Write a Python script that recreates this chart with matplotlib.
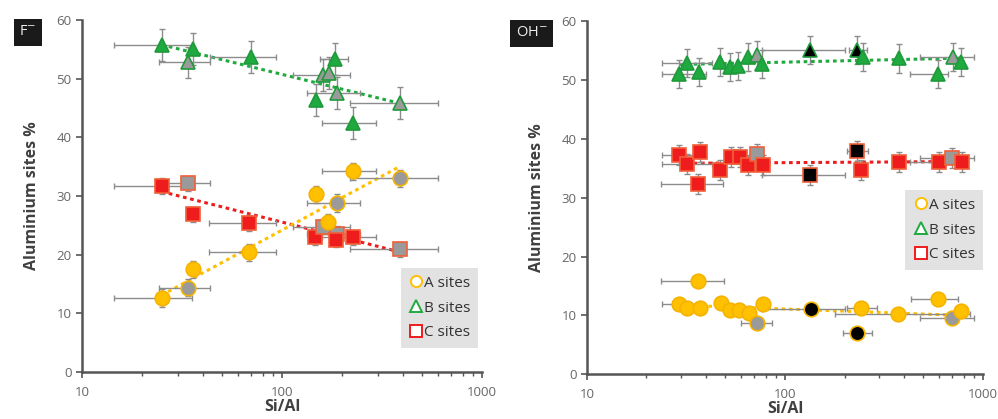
import numpy as np
import matplotlib.pyplot as plt
from matplotlib.lines import Line2D

plt.rcParams['font.family'] = ['Open Sans', 'DejaVu Sans']

# ---- F- panel ----
f_a_x = [25, 33.9, 35.8, 68.6, 148, 170, 187, 227, 389]
f_a_y = [12.6, 14.4, 17.5, 20.4, 30.3, 25.5, 28.8, 34.2, 33.0]
f_a_face = ['c', 'g', 'c', 'c', 'c', 'c', 'g', 'c', 'g']
f_a_xlo = [14.5, 24.2, None, 43, None, None, 133, 158, 219]
f_a_xhi = [35.5, 43.6, None, 93, None, None, 245, 296, 600]
f_a_yerr = 1.5

f_b_x = [25, 33.9, 35.8, 69.7, 148, 160, 172, 184, 187, 227, 389]
f_b_y = [55.7, 52.8, 55.1, 53.7, 46.4, 50.6, 51.0, 53.4, 47.6, 42.5, 45.9]
f_b_face = ['c', 'g', 'c', 'c', 'c', 'g', 'g', 'c', 'g', 'c', 'g']
f_b_xlo = [14.5, 24.2, None, 43.6, None, 113, None, 154, 133, 158, 219]
f_b_xhi = [35.5, 43.6, None, 93.3, None, 219, None, 213, 245, 296, 600]
f_b_yerr = 2.7

f_c_x = [25, 33.9, 35.8, 68.6, 146, 160, 187, 186, 227, 389]
f_c_y = [31.7, 32.2, 26.9, 25.4, 23.0, 24.8, 23.6, 22.6, 23.0, 20.9]
f_c_face = ['c', 'g', 'c', 'c', 'c', 'g', 'g', 'c', 'c', 'g']
f_c_xlo = [14.5, 24.2, None, 43, None, 113, 133, None, 158, 219]
f_c_xhi = [35.5, 43.6, None, 93, None, 219, 245, None, 296, 600]
f_c_yerr = 1.3

# ---- OH- panel ----
oh_a_x = [29.2, 32.2, 36.5, 37.1, 47.3, 52.7, 58.7, 66.1, 72.5, 77.6, 135, 230, 243, 373, 594, 700, 774]
oh_a_y = [11.9, 11.3, 15.8, 11.2, 12.1, 10.9, 10.9, 10.4, 8.7, 11.9, 11.0, 7.0, 11.2, 10.2, 12.7, 9.6, 10.7]
oh_a_face = ['c', 'c', 'c', 'c', 'c', 'c', 'c', 'c', 'g', 'c', 'k', 'k', 'c', 'c', 'c', 'g', 'c']
oh_a_xlo = [24, None, 23.6, None, None, None, None, None, 59.8, None, 77, 197, 205, 180, 431, 480, None]
oh_a_xhi = [37, None, 49, None, None, None, None, None, 86.3, None, 201, 275, 290, 860, 748, 900, None]
oh_a_yerr = 0.6

oh_b_x = [29.2, 32.1, 36.9, 47.0, 52.7, 58.1, 65.3, 72.5, 76.3, 134, 230, 247, 377, 594, 703, 774]
oh_b_y = [51.0, 52.9, 51.4, 53.1, 52.3, 52.4, 53.9, 54.3, 52.8, 55.1, 55.1, 53.9, 53.7, 51.1, 53.9, 53.1]
oh_b_face = ['c', 'c', 'c', 'c', 'c', 'c', 'c', 'g', 'c', 'k', 'k', 'c', 'c', 'c', 'g', 'c']
oh_b_xlo = [24, 24, None, None, None, None, None, None, None, 77, 210, None, None, 428, 480, None]
oh_b_xhi = [40, 43, None, None, None, None, None, None, 110, 201, 260, None, None, 665, 900, None]
oh_b_yerr = 2.4

oh_c_x = [29.2, 31.9, 36.5, 37.1, 47.0, 53.2, 59.4, 65.3, 72.5, 77.6, 134, 231, 243, 377, 600, 695, 780]
oh_c_y = [37.2, 35.7, 32.4, 37.8, 34.8, 37.0, 37.0, 35.5, 37.4, 35.5, 33.8, 38.0, 34.8, 36.0, 36.0, 36.7, 36.1]
oh_c_face = ['c', 'c', 'c', 'c', 'c', 'c', 'c', 'c', 'g', 'c', 'k', 'k', 'c', 'c', 'c', 'g', 'c']
oh_c_xlo = [24, 24, 23.6, None, None, None, None, None, None, None, 77, 205, None, None, 430, 480, None]
oh_c_xhi = [40, 43, 48.5, None, None, None, None, None, None, None, 201, 262, None, None, 700, 900, None]
oh_c_yerr = 1.7

col_a = '#FFC000'
col_b = '#1FAA3F'
col_c = '#EE1C1C'
edge_a = '#F5B300'
edge_b = '#1F9A3A'
edge_c = '#F0603A'
err_col = '#8C8C8C'


def draw_series(ax, xs, ys, face, xlo, xhi, yerr, marker, col, edge, ms):
    xs = np.array(xs, dtype=float)
    ys = np.array(ys, dtype=float)
    # trend line, straight in log-x
    k, b = np.polyfit(np.log10(xs), ys, 1)
    xt = np.array([xs.min(), xs.max()])
    ax.plot(xt, k * np.log10(xt) + b, ls=(0, (1.2, 1.2)), color=col, lw=2.2, zorder=2)
    for i in range(len(xs)):
        if xlo[i] is not None:
            xe = [[xs[i] - xlo[i]], [xhi[i] - xs[i]]]
        else:
            xe = None
        ax.errorbar(xs[i], ys[i], xerr=xe, yerr=yerr, fmt='none', ecolor=err_col,
                    elinewidth=1, capsize=2.5, capthick=1, zorder=3)
        fc = {'c': col, 'g': '#9A9A9A', 'k': 'black'}[face[i]]
        ax.plot(xs[i], ys[i], marker=marker, ms=ms, mfc=fc, mec=edge, mew=1.2,
                ls='none', zorder=4)


def style_axes(ax, tag, tag_x):
    ax.set_xscale('log')
    ax.set_xlim(10, 1000)
    ax.set_ylim(0, 60)
    ax.set_yticks(range(0, 61, 10))
    ax.set_xticks([10, 100, 1000])
    ax.set_xticklabels(['10', '100', '1000'])
    for s in ['top', 'right']:
        ax.spines[s].set_visible(False)
    for s in ['left', 'bottom']:
        ax.spines[s].set_color('#555555')
        ax.spines[s].set_linewidth(1.8)
    ax.tick_params(axis='both', which='major', colors='#555555', labelcolor='#666666',
                   labelsize=9.5, length=4, width=1.2)
    ax.tick_params(axis='x', which='minor', colors='#555555', length=3, width=1)
    ax.tick_params(axis='x', pad=6)
    ax.set_xlabel('Si/Al', fontsize=11.5, fontweight='bold', color='#404040', labelpad=0)
    ax.set_ylabel('Aluminium sites %', fontsize=11.5, fontweight='bold', color='#404040', labelpad=12)
    ax.text(tag_x, 0.965, tag, transform=ax.transAxes, ha='center', va='center',
            color='#EEEEEE', fontsize=10.5,
            bbox=dict(boxstyle='square,pad=0.4', fc='#1a1a1a', ec='none'))


def add_legend(ax, anchor):
    handles = [
        Line2D([], [], marker='o', ls='none', ms=8, mfc='white', mec=col_a, mew=1.4),
        Line2D([], [], marker='^', ls='none', ms=8, mfc='white', mec=col_b, mew=1.4),
        Line2D([], [], marker='s', ls='none', ms=8, mfc='white', mec=col_c, mew=1.4),
    ]
    leg = ax.legend(handles, ['A sites', 'B sites', 'C sites'], loc='lower right',
                    bbox_to_anchor=anchor, frameon=True, fancybox=False,
                    facecolor='#E2E2E2', edgecolor='none', framealpha=1,
                    fontsize=11, handletextpad=0.05, handlelength=1.0,
                    labelspacing=0.65, borderpad=0.5, borderaxespad=0)
    for t in leg.get_texts():
        t.set_color('#333333')


fig = plt.figure(figsize=(9.98, 4.19), dpi=100)
ax1 = fig.add_axes([0.0822, 0.112, 0.401, 0.840])
ax2 = fig.add_axes([0.588, 0.107, 0.397, 0.842])

draw_series(ax1, f_b_x, f_b_y, f_b_face, f_b_xlo, f_b_xhi, f_b_yerr, '^', col_b, edge_b, 10)
draw_series(ax1, f_c_x, f_c_y, f_c_face, f_c_xlo, f_c_xhi, f_c_yerr, 's', col_c, edge_c, 10)
draw_series(ax1, f_a_x, f_a_y, f_a_face, f_a_xlo, f_a_xhi, f_a_yerr, 'o', col_a, edge_a, 10.5)
style_axes(ax1, 'F$^{-}$', -0.135)
add_legend(ax1, (0.99, 0.068))

draw_series(ax2, oh_b_x, oh_b_y, oh_b_face, oh_b_xlo, oh_b_xhi, oh_b_yerr, '^', col_b, edge_b, 10)
draw_series(ax2, oh_c_x, oh_c_y, oh_c_face, oh_c_xlo, oh_c_xhi, oh_c_yerr, 's', col_c, edge_c, 10)
draw_series(ax2, oh_a_x, oh_a_y, oh_a_face, oh_a_xlo, oh_a_xhi, oh_a_yerr, 'o', col_a, edge_a, 10.5)
style_axes(ax2, 'OH$^{-}$', -0.139)
add_legend(ax2, (1.0, 0.295))

fig.savefig('out.png', dpi=100)
